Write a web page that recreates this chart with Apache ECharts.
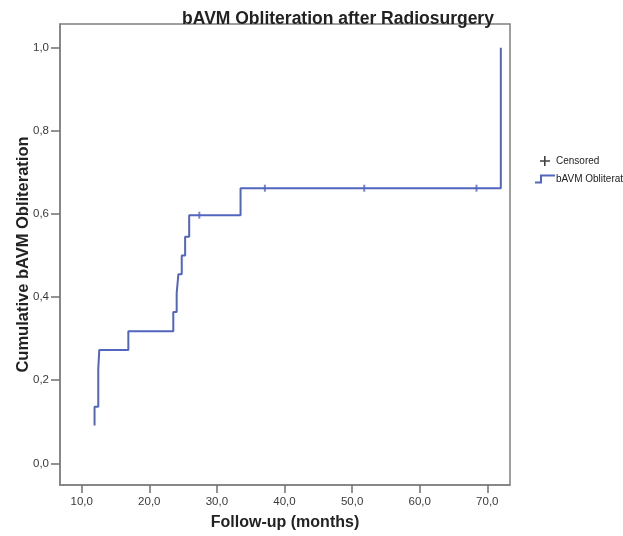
<!DOCTYPE html>
<html>
<head>
<meta charset="utf-8">
<script src="https://cdn.jsdelivr.net/npm/echarts@6/dist/echarts.min.js"></script>
<style>
  html, body { margin: 0; padding: 0; background: #fff; }
  #chart { width: 623px; height: 536px; }
</style>
</head>
<body>
<div id="chart"></div>
<script>
// Kaplan-Meier style cumulative obliteration curve (months, cumulative proportion)
const eventTimes  = [11.9, 11.9, 12.45, 12.6, 16.9, 23.55, 24.05, 24.3, 24.8, 25.3, 25.9, 33.5, 72.0];
const eventValues = [0.091, 0.136, 0.227, 0.273, 0.318, 0.364, 0.409, 0.455, 0.500, 0.545, 0.597, 0.662, 1.000];

// Censored observations
const censorTimes  = [27.4, 37.1, 51.8, 68.4];
const censorValues = [0.597, 0.662, 0.662, 0.662];

// Axis ticks
const xTicks = [10, 20, 30, 40, 50, 60, 70];
const yTicks = [0, 0.2, 0.4, 0.6, 0.8, 1.0];

const lineColor = '#5266bf';
const fmt = v => Number(v).toFixed(1).replace('.', ',');

const chart = echarts.init(document.getElementById('chart'), null, { renderer: 'canvas' });

chart.setOption({
  animation: false,
  backgroundColor: '#fff',
  textStyle: { fontFamily: 'Liberation Sans, Arial, sans-serif' },
  title: {
    text: 'bAVM Obliteration after Radiosurgery',
    left: 333,
    textAlign: 'center',
    top: 5,
    textStyle: { fontSize: 17.5, fontWeight: 'bold', color: '#222', fontFamily: 'Liberation Sans, Arial, sans-serif' }
  },
  legend: {
    orient: 'vertical',
    left: 530,
    top: 151,
    itemWidth: 20,
    itemHeight: 10,
    itemGap: 8,
    textStyle: { fontSize: 10, color: '#222', padding: [0, 0, 0, -4] },
    data: [
      { name: 'Censored', icon: 'path://M4,0h1.6v4.2h4.4v1.6h-4.4v4.2h-1.6v-4.2h-4v-1.6h4z', itemStyle: { color: '#111' } },
      { name: 'bAVM Obliteration', icon: 'path://M0,8h5v-7h15v2h-13v7h-7z', itemStyle: { color: lineColor } }
    ]
  },
  grid: {
    left: 60, top: 24, right: 113, bottom: 51,
    containLabel: false,
    outerBoundsMode: 'none',
    show: true,
    borderColor: '#808080',
    borderWidth: 1.5,
    backgroundColor: '#fff'
  },
  xAxis: {
    type: 'value',
    min: 6.79,
    max: 73.36,
    name: 'Follow-up (months)',
    nameLocation: 'middle',
    nameGap: 30,
    nameMoveOverlap: false,
    nameTextStyle: { fontSize: 16, fontWeight: 'bold', color: '#222' },
    axisLine: { show: true, onZero: false, lineStyle: { color: '#808080', width: 1.5 } },
    splitLine: { show: false },
    axisTick: { show: true, inside: false, length: 8, customValues: xTicks, lineStyle: { color: '#707070', width: 1.5 } },
    axisLabel: { customValues: xTicks, formatter: fmt, fontSize: 11.5, color: '#3a3a3a', margin: 11 }
  },
  yAxis: {
    type: 'value',
    min: -0.052,
    max: 1.057,
    name: 'Cumulative bAVM Obliteration',
    nameLocation: 'middle',
    nameGap: 28,
    nameMoveOverlap: false,
    nameRotate: 90,
    nameTextStyle: { fontSize: 16.5, fontWeight: 'bold', color: '#222' },
    axisLine: { show: true, onZero: false, lineStyle: { color: '#808080', width: 1.5 } },
    splitLine: { show: false },
    axisTick: { show: true, inside: false, length: 9, customValues: yTicks, lineStyle: { color: '#707070', width: 1.5 } },
    axisLabel: { customValues: yTicks, formatter: fmt, fontSize: 11.5, color: '#3a3a3a', margin: 11 }
  },
  series: [
    {
      name: 'Censored',
      type: 'scatter',
      symbol: 'rect',
      symbolSize: [2, 7],
      itemStyle: { color: lineColor },
      data: censorTimes.map((t, i) => [t, censorValues[i]]),
      z: 3
    },
    {
      name: 'bAVM Obliteration',
      type: 'line',
      step: 'end',
      showSymbol: false,
      lineStyle: { color: lineColor, width: 2 },
      itemStyle: { color: lineColor },
      data: eventTimes.map((t, i) => [t, eventValues[i]]),
      z: 2
    }
  ]
});
</script>
</body>
</html>
